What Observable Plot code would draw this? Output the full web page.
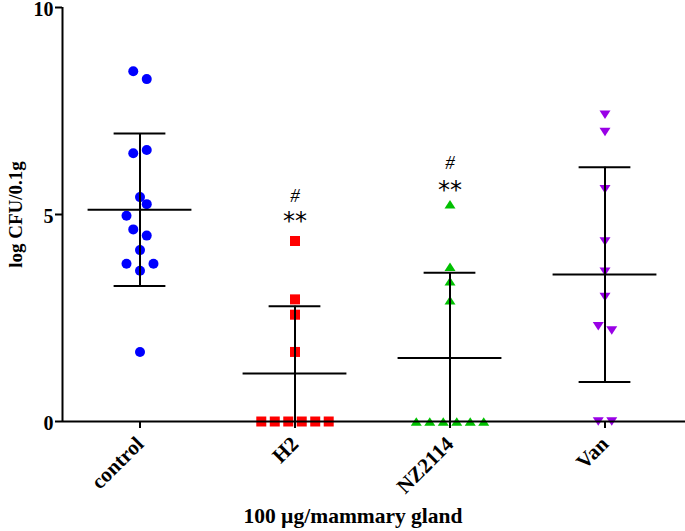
<!DOCTYPE html>
<html>
<head>
<meta charset="utf-8">
<script src="https://cdn.jsdelivr.net/npm/d3@7"></script>
<script src="https://cdn.jsdelivr.net/npm/@observablehq/plot@0.6"></script>
<style>
  html, body { margin: 0; padding: 0; background: #fff; }
  svg { display: block; }
</style>
</head>
<body>
<div id="chart"></div>
<script>
// ---- data ----
const groups = ["control", "H2", "NZ2114", "Van"];
const groupColors = ["#0000ff", "#ff0000", "#00c000", "#9900e6"];

const controlValues = [8.46, 8.27, 6.48, 6.56, 5.42, 5.25, 4.97, 4.64, 4.49, 4.14, 3.81, 3.81, 3.64, 1.68];
const controlSlots  = [-1, 1, -1, 1, 0, 1, -2, -1, 1, 0, -2, 2, 0, 0];

const h2Values = [4.36, 2.95, 2.58, 1.68, 0, 0, 0, 0, 0, 0];
const h2Slots  = [0, 0, 0, 0, -5, -3, -1, 1, 3, 5];

const nzValues = [5.25, 3.74, 3.39, 2.93, 0, 0, 0, 0, 0, 0];
const nzSlots  = [0, 0, 0, 0, -5, -3, -1, 1, 3, 5];

const vanValues = [7.41, 6.99, 5.61, 4.35, 3.62, 3.01, 2.30, 2.20, 0, 0];
const vanSlots  = [0, 0, 0, 0, 0, 0, -1, 1, -1, 1];

const yTicks = [0, 5, 10];
const xTicks = [0, 1, 2, 3];
const yLabel = "log CFU/0.1g";
const xLabel = "100 µg/mammary gland";

const sigGroups = ["H2", "NZ2114"];
const sigStarY = [4.95, 5.70];
const sigHashY = [5.40, 6.20];

// ---- build tables ----
const valueSets = [controlValues, h2Values, nzValues, vanValues];
const slotSets = [controlSlots, h2Slots, nzSlots, vanSlots];
const slotUnit = 0.0435;

const points = [];
valueSets.forEach((vals, gi) => {
  vals.forEach((v, k) => points.push({gi, group: groups[gi], value: v, slot: slotSets[gi][k]}));
});

const summary = valueSets.map((vals, gi) => {
  const mean = d3.mean(vals), sd = d3.deviation(vals);
  return {gi, mean, sd, hi: mean + sd, lo: mean - sd};
});

const sig = sigGroups.map((g, i) => ({gi: groups.indexOf(g), star: sigStarY[i], hash: sigHashY[i]}));

// ---- custom symbols (bbox-centred) ----
function symCircle() { return {draw(ctx, size) { const r = Math.sqrt(size / Math.PI); ctx.moveTo(r, 0); ctx.arc(0, 0, r, 0, 2 * Math.PI); }}; }
function symSquare() { return {draw(ctx, size) { const r = Math.sqrt(size / Math.PI); ctx.rect(-r, -r, 2 * r, 2 * r); }}; }
function symTriUp() { return {draw(ctx, size) { const r = Math.sqrt(size / Math.PI); const w = r * 1.1, h = r * 0.85; ctx.moveTo(0, -h); ctx.lineTo(w, h); ctx.lineTo(-w, h); ctx.closePath(); }}; }
function symTriDown() { return {draw(ctx, size) { const r = Math.sqrt(size / Math.PI); const w = r * 1.1, h = r * 0.85; ctx.moveTo(0, h); ctx.lineTo(w, -h); ctx.lineTo(-w, -h); ctx.closePath(); }}; }
const symbols = [symCircle(), symSquare(), symTriUp(), symTriDown()];

const font = "'Liberation Serif', 'Times New Roman', serif";
const meanHalf = 0.335, capHalf = 0.167;

const groupMarks = groups.map((g, gi) => Plot.dot(points.filter(d => d.gi === gi), {
  x: d => d.gi + d.slot * slotUnit,
  y: "value",
  r: 5,
  symbol: symbols[gi],
  fill: groupColors[gi],
  stroke: "none"
}));

const chart = Plot.plot({
  width: 685,
  height: 531,
  marginLeft: 62,
  marginRight: 0,
  marginTop: 7,
  marginBottom: 110,
  style: {fontFamily: font, background: "#fff", overflow: "visible"},
  x: {domain: [-0.5, 3.5], range: [62, 682]},
  y: {domain: [0, 10], range: [421, 7]},
  marks: [
    ...groupMarks,
    // error bars
    Plot.ruleX(summary, {x: "gi", y1: d => Math.max(0, d.lo), y2: "hi", stroke: "#000", strokeWidth: 2}),
    Plot.ruleY(summary, {y: "mean", x1: d => d.gi - meanHalf, x2: d => d.gi + meanHalf, stroke: "#000", strokeWidth: 2}),
    Plot.ruleY(summary, {y: "hi", x1: d => d.gi - capHalf, x2: d => d.gi + capHalf, stroke: "#000", strokeWidth: 2}),
    Plot.ruleY(summary.filter(d => d.lo > 0), {y: "lo", x1: d => d.gi - capHalf, x2: d => d.gi + capHalf, stroke: "#000", strokeWidth: 2}),
    // significance
    Plot.text(sig, {x: "gi", y: "star", text: () => "**", fontSize: 24, fontFamily: "'DejaVu Sans', 'Liberation Sans', sans-serif", fill: "#000", dy: 5}),
    Plot.text(sig, {x: "gi", y: "hash", text: () => "#", fontSize: 19, fontFamily: font, fontStyle: "italic", fill: "#000", dy: -2}),
    // axes lines
    Plot.ruleY([0], {stroke: "#000", strokeWidth: 2}),
    Plot.ruleX([-0.5], {y1: 0, y2: 10, stroke: "#000", strokeWidth: 2}),
    // y axis: ticks, then labels
    Plot.axisY({ticks: yTicks, tickSize: 7, tickFormat: () => "", label: null, stroke: "#000", strokeWidth: 2}),
    Plot.axisY({ticks: yTicks, tickSize: 0, tickPadding: 9, fontSize: 20, fontWeight: "bold", label: null, dy: 2}),
    // x axis: ticks, then labels
    Plot.axisX({ticks: xTicks, tickSize: 7, tickFormat: () => "", label: null, strokeWidth: 2}),
    Plot.axisX({ticks: xTicks, tickFormat: i => groups[i], tickSize: 0, tickRotate: -45, fontSize: 21, fontWeight: "bold", label: null, tickPadding: 13, dy: 6}),
    Plot.text([yLabel], {frameAnchor: "left", textAnchor: "middle", rotate: -90, dx: -47, fontSize: 19, fontWeight: "bold", fill: "#000"}),
    Plot.text([xLabel], {frameAnchor: "bottom", dx: -21, dy: 101, fontSize: 21.5, fontWeight: "bold", fill: "#000"})
  ]
});

document.getElementById("chart").appendChild(chart);
</script>
</body>
</html>
